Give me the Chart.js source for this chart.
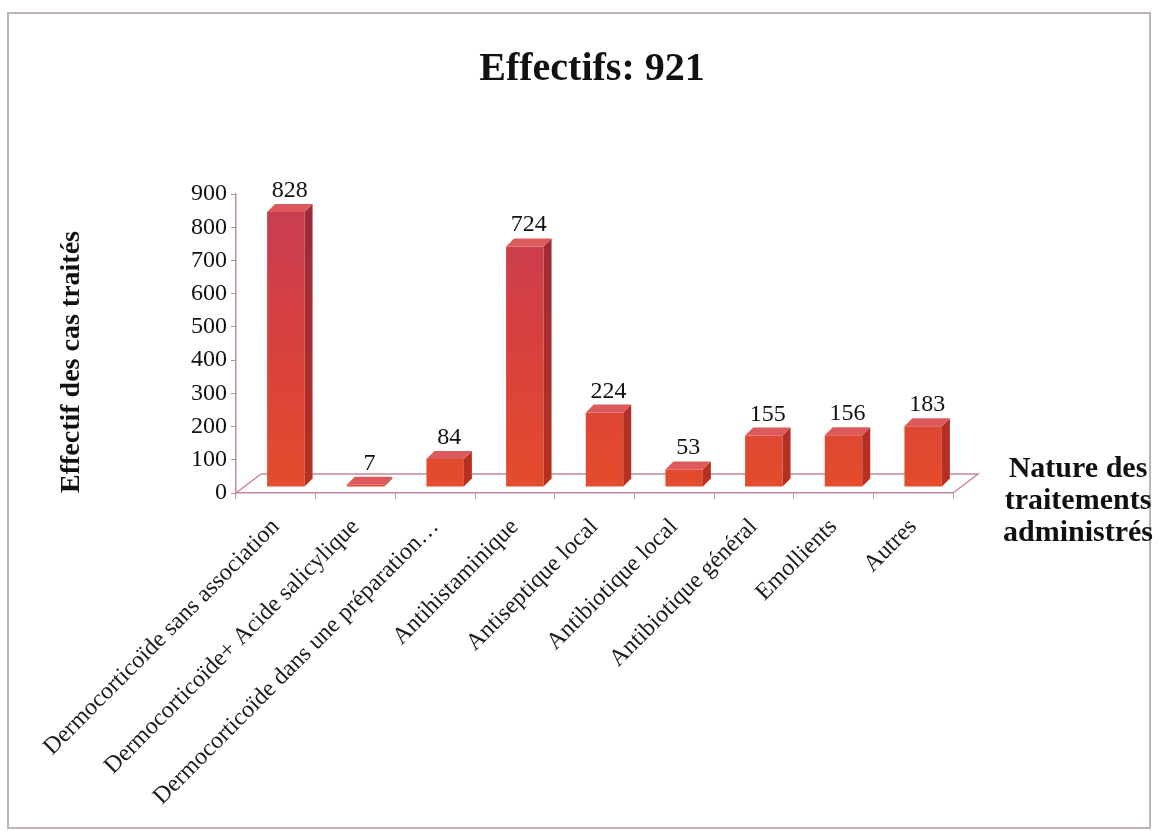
<!DOCTYPE html>
<html lang="fr">
<head>
<meta charset="utf-8">
<title>Effectifs: 921</title>
<script src="https://cdn.jsdelivr.net/npm/chart.js@4.4.1/dist/chart.umd.min.js"></script>
<style>
  html, body { margin: 0; padding: 0; background: #fff; }
  canvas { display: block; }
</style>
</head>
<body>
<canvas id="chart" width="1158" height="831"></canvas>
<script>
// ---- data ----
const chartTitle = 'Effectifs: 921';
const yAxisTitle = 'Effectif des cas traités';
const xAxisTitleLines = ['Nature des', 'traitements', 'administrés'];
const categories = [
  'Dermocorticoïde sans association',
  'Dermocorticoïde+ Acide salicylique',
  'Dermocorticoïde dans une préparation…',
  'Antihistaminique',
  'Antiseptique local',
  'Antibiotique local',
  'Antibiotique général',
  'Emollients',
  'Autres'
];
const casesTreated = [828, 7, 84, 724, 224, 53, 155, 156, 183];
const yMin = 0;
const yMax = 900;
const yStep = 100;

// ---- styling ----
const SERIF = '"Liberation Serif", "Times New Roman", serif';
const AXIS_PINK = '#c4889a';
const DEPTH = 8;                 // extrusion of the top / side faces of a bar
const SHIFT_X = 10, SHIFT_Y = -6; // bars stand half-way into the floor depth
const FLOOR_DX = 25, FLOOR_DY = 19;

function frontGradient(c) {
  const chart = c.chart;
  const a = chart.chartArea;
  if (!a) return '#d8403a';
  const g = chart.ctx.createLinearGradient(0, a.bottom, 0, a.top);
  g.addColorStop(0, '#e44c2c');
  g.addColorStop(0.5, '#d8403e');
  g.addColorStop(1, '#c53d56');
  return g;
}

const bars3d = {
  id: 'bars3d',
  beforeDraw(chart) {
    const ctx = chart.ctx;
    ctx.save();
    ctx.fillStyle = '#ffffff';
    ctx.fillRect(0, 0, chart.width, chart.height);
    ctx.strokeStyle = '#bfb3b8';
    ctx.lineWidth = 2;
    ctx.strokeRect(8, 13, 1142, 815);
    ctx.restore();
  },
  beforeDatasetsDraw(chart) {
    const { ctx, chartArea: a } = chart;
    // floor outline (front edge is the x axis border)
    ctx.save();
    ctx.strokeStyle = AXIS_PINK;
    ctx.lineWidth = 1.5;
    ctx.beginPath();
    ctx.moveTo(a.left, a.bottom);
    ctx.lineTo(a.left + FLOOR_DX, a.bottom - FLOOR_DY);
    ctx.lineTo(a.right + FLOOR_DX, a.bottom - FLOOR_DY);
    ctx.lineTo(a.right, a.bottom);
    ctx.stroke();
    ctx.restore();
    ctx.save();
    ctx.translate(SHIFT_X, SHIFT_Y);
  },
  afterDatasetsDraw(chart) {
    const { ctx, chartArea: a } = chart;
    const meta = chart.getDatasetMeta(0);
    const sideG = ctx.createLinearGradient(0, a.bottom, 0, a.top);
    sideG.addColorStop(0, '#b8301f');
    sideG.addColorStop(1, '#9a2a3e');
    meta.data.forEach((bar) => {
      const { x, y, base, width } = bar.getProps(['x', 'y', 'base', 'width'], true);
      const l = x - width / 2, r = x + width / 2;
      // right side face
      ctx.fillStyle = sideG;
      ctx.beginPath();
      ctx.moveTo(r, y);
      ctx.lineTo(r + DEPTH, y - DEPTH);
      ctx.lineTo(r + DEPTH, base - DEPTH);
      ctx.lineTo(r, base);
      ctx.closePath();
      ctx.fill();
      // top face
      ctx.fillStyle = '#dc5a5c';
      ctx.beginPath();
      ctx.moveTo(l, y);
      ctx.lineTo(l + DEPTH, y - DEPTH);
      ctx.lineTo(r + DEPTH, y - DEPTH);
      ctx.lineTo(r, y);
      ctx.closePath();
      ctx.fill();
    });
    // value labels above each bar
    const values = chart.data.datasets[0].data;
    ctx.fillStyle = '#111';
    ctx.font = '24px ' + SERIF;
    ctx.textAlign = 'center';
    ctx.textBaseline = 'alphabetic';
    meta.data.forEach((bar, i) => {
      const { x, y } = bar.getProps(['x', 'y'], true);
      ctx.fillText(String(values[i]), x + DEPTH / 2, y - DEPTH - 7);
    });
    ctx.restore();
  },
  afterDraw(chart) {
    const ctx = chart.ctx;
    ctx.save();
    ctx.fillStyle = '#111';
    ctx.font = 'bold 30px ' + SERIF;
    ctx.textAlign = 'center';
    ctx.textBaseline = 'middle';
    xAxisTitleLines.forEach((t, i) => ctx.fillText(t, 1078, 469 + i * 32));
    ctx.restore();
  }
};

new Chart(document.getElementById('chart'), {
  type: 'bar',
  data: {
    labels: categories,
    datasets: [{
      data: casesTreated,
      backgroundColor: frontGradient,
      borderWidth: 0,
      barPercentage: 0.47,
      categoryPercentage: 1.0,
      clip: false
    }]
  },
  options: {
    responsive: false,
    devicePixelRatio: 1,
    animation: false,
    layout: { padding: { left: 55, right: 29, top: 0, bottom: 0 } },
    plugins: {
      legend: { display: false },
      tooltip: { enabled: false },
      title: {
        display: true,
        text: chartTitle,
        color: '#111',
        font: { family: SERIF, size: 40, weight: 'bold' },
        padding: { top: 46, bottom: 100 }
      }
    },
    scales: {
      x: {
        grid: { display: true, drawOnChartArea: false, drawTicks: true, tickLength: 6, color: '#b9a0a8' },
        border: { display: true, color: AXIS_PINK, width: 1.5 },
        ticks: {
          autoSkip: false,
          minRotation: 45,
          maxRotation: 45,
          padding: 14,
          color: '#1c1c1c',
          font: { family: SERIF, size: 24 }
        },
        afterFit(s) { s.height = 338; }
      },
      y: {
        min: yMin,
        max: yMax,
        grid: { display: true, drawOnChartArea: false, drawTicks: true, tickLength: 5, color: AXIS_PINK },
        border: { display: true, color: AXIS_PINK, width: 1.5 },
        ticks: {
          stepSize: yStep,
          padding: 4,
          color: '#111',
          font: { family: SERIF, size: 24 }
        },
        title: {
          display: true,
          text: yAxisTitle,
          align: 'start',
          color: '#111',
          font: { family: SERIF, size: 28, weight: 'bold' },
          padding: 0
        },
        afterFit(s) { s.width = 181; }
      },
      yRight: {
        type: 'linear',
        position: 'right',
        display: true,
        grid: { display: false },
        border: { display: false },
        ticks: { display: false },
        afterFit(s) { s.width = 176; }
      }
    }
  },
  plugins: [bars3d]
});
</script>
</body>
</html>
